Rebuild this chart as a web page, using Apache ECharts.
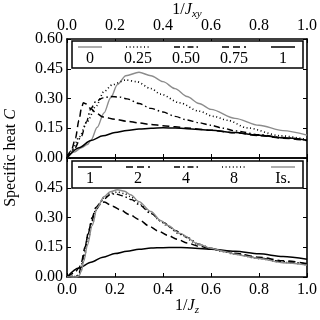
<!DOCTYPE html>
<html>
<head>
<meta charset="utf-8">
<script src="https://cdn.jsdelivr.net/npm/echarts@6/dist/echarts.min.js"></script>
<style>
  html, body { margin: 0; padding: 0; background: #fff; }
  #chart { width: 320px; height: 320px; }
</style>
</head>
<body>
<div id="chart"></div>
<script>
// top panel: C vs 1/J_xy
var topLegend = ["0", "0.25", "0.50", "0.75", "1"];
var topGrayX = [0, 0.03, 0.06, 0.085, 0.1, 0.126, 0.154, 0.182, 0.21, 0.245, 0.3, 0.35, 0.4, 0.45, 0.5, 0.55, 0.6, 0.7, 0.8, 0.9, 1.0];
var topGrayY = [0, 0.03, 0.052, 0.068, 0.09, 0.155, 0.227, 0.304, 0.37, 0.415, 0.432, 0.415, 0.385, 0.35, 0.31, 0.275, 0.245, 0.2, 0.165, 0.138, 0.115];
var topDotX = [0, 0.022, 0.05, 0.085, 0.12, 0.154, 0.19, 0.245, 0.29, 0.35, 0.39, 0.47, 0.55, 0.61, 0.67, 0.75, 0.89, 1.0];
var topDotY = [0, 0.04, 0.105, 0.185, 0.26, 0.335, 0.37, 0.393, 0.385, 0.35, 0.322, 0.278, 0.236, 0.21, 0.19, 0.152, 0.112, 0.093];
var topDashDotX = [0, 0.03, 0.06, 0.08, 0.1, 0.12, 0.15, 0.18, 0.22, 0.25, 0.3, 0.35, 0.4, 0.45, 0.5, 0.55, 0.6, 0.65, 0.7, 0.8, 0.9, 1.0];
var topDashDotY = [0, 0.045, 0.11, 0.18, 0.25, 0.285, 0.303, 0.31, 0.307, 0.298, 0.275, 0.25, 0.232, 0.21, 0.192, 0.178, 0.165, 0.15, 0.137, 0.118, 0.103, 0.09];
var topDashX = [0, 0.02, 0.035, 0.05, 0.06, 0.068, 0.08, 0.1, 0.12, 0.15, 0.2, 0.25, 0.3, 0.35, 0.4, 0.45, 0.5, 0.6, 0.7, 0.8, 0.9, 1.0];
var topDashY = [0, 0.045, 0.1, 0.19, 0.25, 0.278, 0.272, 0.248, 0.228, 0.207, 0.195, 0.185, 0.177, 0.169, 0.163, 0.157, 0.151, 0.14, 0.127, 0.113, 0.1, 0.088];
var topSolidX = [0, 0.05, 0.1, 0.15, 0.2, 0.25, 0.3, 0.35, 0.4, 0.45, 0.5, 0.6, 0.7, 0.8, 0.9, 1.0];
var topSolidY = [0, 0.052, 0.088, 0.112, 0.128, 0.139, 0.146, 0.15, 0.152, 0.151, 0.148, 0.14, 0.128, 0.115, 0.102, 0.09];

// bottom panel: C vs 1/J_z
var botLegend = ["1", "2", "4", "8", "Is."];
var botSolidX = [0, 0.05, 0.1, 0.15, 0.2, 0.25, 0.3, 0.35, 0.4, 0.45, 0.5, 0.6, 0.7, 0.8, 0.9, 1.0];
var botSolidY = [0, 0.045, 0.075, 0.1, 0.118, 0.13, 0.14, 0.146, 0.148, 0.149, 0.148, 0.14, 0.13, 0.117, 0.103, 0.09];
var botDashX = [0, 0.03, 0.05, 0.06, 0.075, 0.09, 0.105, 0.12, 0.14, 0.155, 0.19, 0.22, 0.26, 0.3, 0.34, 0.38, 0.42, 0.46, 0.5, 0.55, 0.6, 0.65, 0.7, 0.8, 0.9, 1.0];
var botDashY = [0, 0.02, 0.045, 0.075, 0.15, 0.23, 0.3, 0.35, 0.375, 0.378, 0.357, 0.34, 0.315, 0.29, 0.258, 0.232, 0.21, 0.19, 0.172, 0.155, 0.143, 0.132, 0.12, 0.1, 0.082, 0.068];
var botDashDotX = [0, 0.04, 0.05, 0.06, 0.07, 0.085, 0.1, 0.12, 0.15, 0.18, 0.2, 0.23, 0.27, 0.3, 0.35, 0.4, 0.45, 0.5, 0.55, 0.6, 0.65, 0.7, 0.8, 0.9, 1.0];
var botDashDotY = [0, 0.005, 0.02, 0.06, 0.11, 0.2, 0.27, 0.34, 0.39, 0.415, 0.42, 0.41, 0.39, 0.365, 0.32, 0.275, 0.235, 0.2, 0.165, 0.145, 0.13, 0.117, 0.095, 0.077, 0.065];
var botDotX = [0, 0.04, 0.05, 0.06, 0.07, 0.085, 0.105, 0.126, 0.154, 0.18, 0.21, 0.24, 0.265, 0.3, 0.35, 0.39, 0.42, 0.47, 0.55, 0.6, 0.65, 0.7, 0.8, 0.9, 1.0];
var botDotY = [0, 0.002, 0.012, 0.04, 0.09, 0.17, 0.27, 0.35, 0.4, 0.422, 0.428, 0.42, 0.405, 0.372, 0.322, 0.282, 0.256, 0.215, 0.163, 0.143, 0.128, 0.115, 0.093, 0.074, 0.062];
var botGrayX = [0, 0.04, 0.05, 0.06, 0.07, 0.085, 0.105, 0.126, 0.154, 0.18, 0.21, 0.24, 0.265, 0.3, 0.35, 0.39, 0.42, 0.47, 0.55, 0.6, 0.65, 0.7, 0.75, 0.8, 0.9, 1.0];
var botGrayY = [0, 0, 0.006, 0.03, 0.08, 0.16, 0.26, 0.35, 0.405, 0.43, 0.44, 0.432, 0.415, 0.38, 0.33, 0.285, 0.26, 0.22, 0.165, 0.145, 0.13, 0.115, 0.104, 0.093, 0.072, 0.06];

var FONT = "Liberation Serif";
var GRAY = "#8c8c8c";
// line styles: solid / dotted / dash-dot / dashed
var styles = {
  gray: { color: GRAY, type: "solid", width: 1.4 },
  dot: { color: "#000", type: [1, 2.6], width: 1.6 },
  dashdot: { color: "#000", type: [6, 3, 1.5, 3], width: 1.4 },
  dash: { color: "#000", type: [7, 4], width: 1.5 },
  solid: { color: "#000", type: "solid", width: 1.5 }
};

function pts(xs, ys) {
  return xs.map(function (x, i) { return [x, ys[i]]; });
}

function line(name, xs, ys, st, panel) {
  return {
    name: name,
    type: "line",
    xAxisIndex: panel * 2,
    yAxisIndex: panel * 2,
    data: pts(xs, ys),
    showSymbol: false,
    smooth: 0.3,
    smoothMonotone: "x",
    lineStyle: { color: st.color, type: st.type, width: st.width }
  };
}

function xAx(grid, pos, labels) {
  return {
    type: "value", gridIndex: grid, position: pos, min: 0, max: 1, interval: 0.2,
    axisLine: { show: true, onZero: false, lineStyle: { color: "#000", width: 1.6 } },
    axisTick: { show: true, inside: true, length: 4, lineStyle: { color: "#000" } },
    axisLabel: { show: labels, fontFamily: FONT, fontSize: 16, color: "#000", margin: 5,
      formatter: function (v) { return v.toFixed(1); } },
    splitLine: { show: false }
  };
}

function yAx(grid, pos, labels, hideTop) {
  return {
    type: "value", gridIndex: grid, position: pos, min: 0, max: 0.6, interval: 0.15,
    axisLine: { show: true, onZero: false, lineStyle: { color: "#000", width: 1.6 } },
    axisTick: { show: true, inside: true, length: 4, lineStyle: { color: "#000" } },
    axisLabel: { show: labels, fontFamily: FONT, fontSize: 16, color: "#000", margin: 4,
      formatter: function (v) { return hideTop && v > 0.5 ? "" : v.toFixed(2); } },
    splitLine: { show: false }
  };
}

// legend drawn by hand: sample line above, label below
function legendBox(names, keys, top) {
  var cx = [90, 138, 186, 234, 283];
  var els = [{
    type: "rect", shape: { x: 72, y: top, width: 231, height: 27 },
    style: { fill: "#fff", stroke: "#000", lineWidth: 1.5 }, z: 100
  }];
  names.forEach(function (n, i) {
    var st = styles[keys[i]];
    els.push({
      type: "line", shape: { x1: cx[i] - 12, y1: top + 6, x2: cx[i] + 12, y2: top + 6 },
      style: { stroke: st.color, lineWidth: st.width, lineDash: st.type === "solid" ? null : st.type },
      z: 101
    });
    els.push({
      type: "text", x: cx[i], y: top + 18,
      style: { text: n, font: "16px '" + FONT + "'", fill: "#000", textAlign: "center", textVerticalAlign: "middle" },
      z: 101
    });
  });
  return els;
}

var topKeys = ["gray", "dot", "dashdot", "dash", "solid"];
var botKeys = ["solid", "dash", "dashdot", "dot", "gray"];

var rich = {
  n: { fontFamily: FONT, fontSize: 16, color: "#000", lineHeight: 20 },
  i: { fontFamily: FONT, fontSize: 16, fontStyle: "italic", color: "#000", lineHeight: 20 },
  s: { fontFamily: FONT, fontSize: 11, fontStyle: "italic", color: "#000", verticalAlign: "bottom", lineHeight: 12, padding: [6, 0, 0, 0] }
};

var chart = echarts.init(document.getElementById("chart"));
chart.setOption({
  animation: false,
  backgroundColor: "#fff",
  grid: [
    { left: 67, top: 39, width: 240, height: 119 },
    { left: 67, top: 158, width: 240, height: 119 }
  ],
  xAxis: [xAx(0, "top", true), xAx(0, "bottom", false), xAx(1, "bottom", true), xAx(1, "top", false)],
  yAxis: [yAx(0, "left", true, false), yAx(0, "right", false, false), yAx(1, "left", true, true), yAx(1, "right", false, false)],
  series: [
    line(topLegend[0], topGrayX, topGrayY, styles.gray, 0),
    line(topLegend[1], topDotX, topDotY, styles.dot, 0),
    line(topLegend[2], topDashDotX, topDashDotY, styles.dashdot, 0),
    line(topLegend[3], topDashX, topDashY, styles.dash, 0),
    line(topLegend[4], topSolidX, topSolidY, styles.solid, 0),
    line(botLegend[0], botSolidX, botSolidY, styles.solid, 1),
    line(botLegend[1], botDashX, botDashY, styles.dash, 1),
    line(botLegend[2], botDashDotX, botDashDotY, styles.dashdot, 1),
    line(botLegend[3], botDotX, botDotY, styles.dot, 1),
    line(botLegend[4], botGrayX, botGrayY, styles.gray, 1)
  ],
  graphic: legendBox(topLegend, topKeys, 41)
    .concat(legendBox(botLegend, botKeys, 161))
    .concat([
      { type: "text", x: 187, y: 10, z: 100,
        style: { text: "{n|1/}{i|J}{s|xy}", rich: rich, textAlign: "center", textVerticalAlign: "middle" } },
      { type: "text", x: 187, y: 306, z: 100,
        style: { text: "{n|1/}{i|J}{s|z}", rich: rich, textAlign: "center", textVerticalAlign: "middle" } },
      { type: "text", x: 11, y: 158, rotation: Math.PI / 2, z: 100,
        style: { text: "{n|Specific heat }{i|C}", rich: rich, textAlign: "center", textVerticalAlign: "middle" } }
    ])
});
</script>
</body>
</html>
